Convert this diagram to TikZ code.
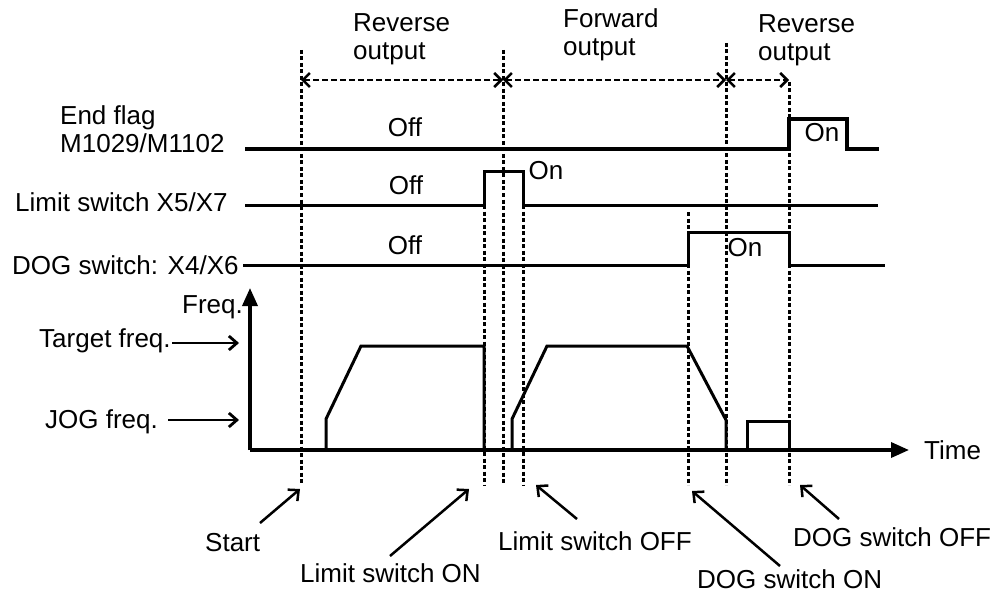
\documentclass[tikz,border=0pt]{standalone}
\usepackage{fontspec}
\setmainfont{Liberation Sans}
\usetikzlibrary{arrows.meta}
\newcommand\dfs{\fontsize{26}{28}\selectfont}
\tikzset{
  sig/.style={line width=3pt, line join=miter},
  flagsig/.style={line width=3.6pt, line join=miter},
  dotv/.style={line width=3pt, dash pattern=on 4pt off 2.5pt},
  span/.style={line width=2.5pt, dash pattern=on 6pt off 3pt,
    {Straight Barb[length=7pt,width=14pt,line width=2.5pt]}-{Straight Barb[length=7pt,width=14pt,line width=2.5pt]}},
  callout/.style={line width=2.5pt, -{Straight Barb[length=8pt,width=15pt]}},
  levelarrow/.style={line width=2.8pt, -{Straight Barb[length=8pt,width=14pt]}},
  axisline/.style={line width=3.5pt, -{Triangle[length=18pt,width=15pt]}},
  lbl/.style={font=\dfs, inner sep=0pt},
  curve/.style={line width=3pt, line join=miter},
}
\begin{document}
\begin{tikzpicture}[x=1pt,y=-1pt]
\useasboundingbox (0,0) rectangle (1000,596);

% top labels
\node[lbl, anchor=base west] (rev1a) at (353,32) {Reverse};
\node[lbl, anchor=base west] (rev1b) at (353,60) {output};
\node[lbl, anchor=base west] (fwda) at (563,28) {Forward};
\node[lbl, anchor=base west] (fwdb) at (563,56) {output};
\node[lbl, anchor=base west] (rev2a) at (758,33) {Reverse};
\node[lbl, anchor=base west] (rev2b) at (758,61) {output};

% left labels
\node[lbl, anchor=base west] (efa) at (60,125) {End flag};
\node[lbl, anchor=base west] (efb) at (60,153) {M1029/M1102};
\node[lbl, anchor=base west] (lim) at (15,211) {Limit switch X5/X7};
\node[lbl, anchor=base west] (dog) at (12,274) {DOG switch: X4/X6};

% dotted time markers
\draw[dotv] (301,50) -- (301,485);
\draw[dotv] (503,50) -- (503,485);
\draw[dotv] (484,205) -- (484,485);
\draw[dotv] (523,205) -- (523,485);
\draw[dotv] (688,212) -- (688,485);
\draw[dotv] (726,43) -- (726,485);
\draw[dotv] (789,82) -- (789,485);

% spans
\coordinate (s0) at (301,80);
\coordinate (s1) at (503,80);
\coordinate (s2) at (726,80);
\coordinate (s3) at (789,80);
\draw[span] (s0) -- (s1);
\draw[span] (s1) -- (s2);
\draw[span] (s2) -- (s3);

% signals
\draw[flagsig] (245,149) -- (789,149) -- (789,119) -- (847,119) -- (847,149) -- (879,149);
\draw[sig] (245,205) -- (484,205) -- (484,172) -- (523,172) -- (523,205) -- (878,205);
\draw[sig] (243,265) -- (688,265) -- (688,232) -- (789,232) -- (789,265) -- (885,265);

\node[lbl] (off1) at (405,127) {Off};
\node[lbl] (off2) at (406,185) {Off};
\node[lbl] (off3) at (405,245) {Off};
\node[lbl] (on1) at (822,133) {On};
\node[lbl] (on2) at (546,171) {On};
\node[lbl] (on3) at (745,248) {On};

% frequency axes
\coordinate (org) at (250,450);
\coordinate (ytop) at (250,288);
\coordinate (xend) at (909,450);
\draw[axisline] (org) -- (ytop);
\draw[axisline] (org) -- (xend);
\node[lbl, anchor=base east] (freq) at (243,313) {Freq.};
\node[lbl, anchor=west] (time) at (924,450) {Time};

\node[lbl, anchor=base west] (tgt) at (39,347) {Target freq.};
\node[lbl, anchor=base west] (jog) at (45,428) {JOG freq.};
\coordinate (tgtA) at (172,343);
\coordinate (tgtB) at (239,343);
\coordinate (jogA) at (168,420);
\coordinate (jogB) at (239,420);
\draw[levelarrow] (tgtA) -- (tgtB);
\draw[levelarrow] (jogA) -- (jogB);

% frequency profile
\draw[curve] (326,450) -- (326,419) -- (361,346) -- (484,346) -- (484,450);
\draw[curve] (512,450) -- (512,419) -- (547,346) -- (687,346) -- (726,420) -- (726,450);
\draw[curve] (747,450) -- (747,421) -- (789,421) -- (789,450);

% bottom labels
\node[lbl, anchor=base west] (start) at (205,551) {Start};
\node[lbl, anchor=base west] (lon) at (300,582) {Limit switch ON};
\node[lbl, anchor=base west] (loff) at (498,550) {Limit switch OFF};
\node[lbl, anchor=base west] (don) at (697,588) {DOG switch ON};
\node[lbl, anchor=base west] (doff) at (793,546) {DOG switch OFF};

\coordinate (startA) at (260,523);
\coordinate (startB) at (300,489);
\coordinate (lonA) at (390,556);
\coordinate (lonB) at (469,489);
\coordinate (loffA) at (577,519);
\coordinate (loffB) at (536,485);
\coordinate (donA) at (780,566);
\coordinate (donB) at (692,491);
\coordinate (doffA) at (839,519);
\coordinate (doffB) at (800,485);
\draw[callout] (startA) -- (startB);
\draw[callout] (lonA) -- (lonB);
\draw[callout] (loffA) -- (loffB);
\draw[callout] (donA) -- (donB);
\draw[callout] (doffA) -- (doffB);
\end{tikzpicture}
\end{document}
